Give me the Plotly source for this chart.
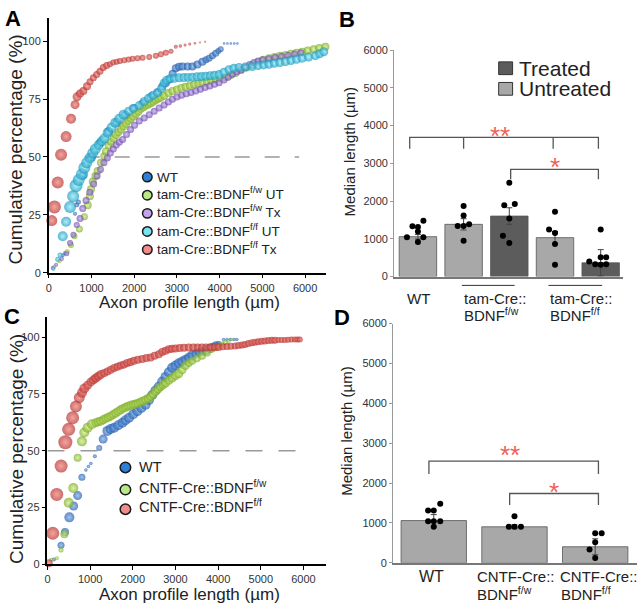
import plotly.graph_objects as go

# ---- panel A: cumulative distributions (length um, cumulative %, bubble value) ----
a_wt = [(327, 7.5, 4), (382, 8.5, 4), (615, 25.5, 4), (654, 29.3, 5), (693, 30.5, 5),
        (800, 42, 8), (1000, 50, 9), (1200, 56, 9), (1400, 61, 9), (1600, 65, 9),
        (1800, 68, 9), (2000, 71, 9), (2200, 73, 9), (2400, 76, 9), (2550, 78, 8),
        (2662, 80.6, 8), (2740, 82, 8), (2818, 83.5, 8), (2900, 86, 8), (2973, 88.4, 8),
        (3050, 89, 8), (3129, 89.1, 8), (3250, 89.1, 8), (3362, 89.1, 8), (3480, 90, 8),
        (3596, 91.2, 8), (3680, 92, 7), (3752, 92.7, 7), (3830, 93.8, 7), (3908, 94.8, 7),
        (3970, 95.8, 6), (4024, 96.6, 6), (4102, 99, 2.5), (4180, 99, 2.5), (4260, 99, 2.5),
        (4340, 99, 2.5), (4413, 99, 2.5)]

a_fw_ut = [(130, 2.6, 4), (250, 5, 4.5), (430, 9, 5), (520, 12, 6), (600, 15.7, 6),
           (716, 18.9, 7), (833, 24.2, 7), (911, 29.1, 8), (960, 33, 8), (988, 36.1, 8),
           (1028, 39.3, 8), (1090, 41.8, 8), (1144, 43.9, 8), (1222, 47.5, 8), (1300, 50.3, 8),
           (1339, 52.4, 8), (1400, 55, 8), (1455, 56.6, 8), (1515, 58, 8), (1572, 59.5, 8),
           (1630, 60.7, 8), (1689, 61.9, 8), (1750, 63.2, 8), (1806, 64.4, 8), (1865, 65.5, 8),
           (1922, 66.5, 8), (1980, 67.5, 8), (2039, 68.6, 8), (2100, 69.7, 8), (2156, 70.8, 8),
           (2215, 71.5, 8), (2273, 72.2, 8), (2330, 72.7, 8), (2390, 73.2, 8), (2450, 73.9, 8),
           (2506, 74.6, 8), (2565, 75.2, 8), (2623, 75.7, 8), (2700, 76.5, 8), (2800, 77.6, 8),
           (2895, 78.5, 8), (3000, 79.2, 8), (3100, 79.8, 8), (3200, 80.3, 8), (3300, 80.8, 8),
           (3400, 81.3, 8), (3500, 81.7, 8), (3596, 82.1, 8), (3700, 82.7, 8), (3800, 83.2, 8),
           (3900, 83.6, 8), (4000, 84, 8), (4141, 84.6, 8), (4260, 85.4, 8), (4374, 86.3, 8),
           (4500, 87.6, 8), (4630, 88.7, 8), (4763, 89.8, 8), (4900, 91, 8), (5030, 92, 8),
           (5153, 92.7, 8), (5280, 93.2, 8), (5410, 93.7, 8), (5541, 94.1, 8), (5670, 94.6, 8),
           (5800, 95, 8), (5931, 95.5, 8), (6060, 96, 8), (6200, 96.6, 8), (6330, 97.1, 8),
           (6475, 97.6, 8)]

a_fw_tx = [(93, 2, 4), (171, 3.4, 4), (300, 6, 4.5), (420, 8.2, 5), (498, 12.8, 6),
           (576, 16.4, 6), (654, 20.6, 6), (732, 23.4, 7), (794, 27.7, 7), (872, 31.2, 7),
           (960, 34.7, 7), (1050, 38.3, 7), (1130, 41.8, 7), (1210, 44.6, 7), (1290, 47.5, 7),
           (1370, 49.6, 7), (1440, 51.7, 7), (1510, 53.4, 7), (1580, 55.2, 7), (1650, 56.4, 7),
           (1728, 57.6, 7), (1821, 59.7, 7), (1915, 61.9, 7), (2008, 63.7, 7), (2117, 65.5, 7),
           (2234, 66.9, 7), (2351, 68.3, 7), (2468, 69.8, 7), (2584, 71.2, 7), (2700, 72.5, 7),
           (2800, 73.8, 7), (2895, 75, 7), (3000, 75.9, 7), (3110, 76.7, 7), (3220, 77.3, 7),
           (3330, 77.9, 7), (3440, 78.5, 7), (3550, 79.3, 7), (3660, 80, 7), (3770, 80.7, 7),
           (3880, 81.4, 7), (3986, 82.1, 7), (4100, 83.3, 7), (4200, 84.5, 7), (4300, 85.8, 7),
           (4400, 86.8, 7), (4500, 87.6, 7), (4600, 88.8, 7), (4700, 90, 7), (4800, 90.8, 7),
           (4900, 91.5, 7), (5000, 92, 7), (5150, 92.5, 7), (5300, 93, 7), (5450, 93.5, 7),
           (5600, 94, 7), (5750, 94.5, 7), (5900, 95, 7)]

a_ff_ut = [(109, 1.7, 4), (210, 5.8, 5), (264, 7.6, 5), (327, 15.7, 10), (405, 22, 10),
           (498, 28.4, 12), (570, 33, 12), (638, 37.6, 13), (700, 40, 12), (778, 42.5, 12),
           (833, 45.3, 12), (887, 47.5, 11), (965, 49.6, 11), (1028, 51.7, 11), (1090, 53.4, 11),
           (1168, 55.2, 10), (1240, 56.8, 10), (1300, 58, 10), (1378, 60.5, 10), (1471, 62.7, 10),
           (1557, 64.8, 10), (1650, 66.5, 10), (1751, 68.3, 10), (1868, 69.8, 9), (1977, 71, 9),
           (2117, 72.2, 9), (2234, 74, 9), (2335, 75.4, 9), (2444, 76.7, 9), (2545, 77.8, 9),
           (2639, 79.7, 9), (2701, 82, 9), (2760, 83.2, 9), (2840, 83.8, 9), (2940, 84, 9),
           (3050, 84.2, 9), (3160, 84.3, 9), (3260, 84.4, 9), (3362, 84.5, 9), (3470, 84.7, 9),
           (3570, 84.8, 9), (3673, 84.9, 9), (3780, 85.1, 9), (3880, 85.3, 9), (3986, 85.6, 9),
           (4100, 86.6, 9), (4219, 87.7, 9), (4330, 88.3, 9), (4453, 88.7, 9), (4600, 88.9, 9),
           (4763, 89.1, 9), (4900, 89.5, 9), (5030, 89.8, 9), (5153, 90.1, 9), (5280, 90.5, 9),
           (5410, 90.8, 9), (5541, 91.2, 9), (5670, 91.7, 9), (5800, 92.2, 9), (5931, 92.7, 9),
           (6080, 93.2, 9), (6242, 93.8, 9), (6340, 94.6, 9), (6437, 95.5, 9)]

a_ff_tx = [(70, 22.5, 11), (132, 28.4, 13), (210, 39, 12), (288, 51, 12), (405, 58.8, 11),
           (521, 66.5, 10), (615, 72.6, 9), (662, 76, 9), (732, 77.4, 8), (809, 78.5, 8),
           (895, 80.6, 8), (965, 82.5, 7), (1043, 84.2, 7), (1121, 85.6, 7), (1198, 87, 7),
           (1276, 88.7, 7), (1354, 89.5, 7), (1432, 90.1, 6), (1510, 90.8, 6), (1588, 91.2, 6),
           (1666, 91.5, 6), (1767, 91.8, 6), (1868, 92.1, 6), (1961, 92.5, 6), (2078, 92.7, 6),
           (2195, 92.9, 6), (2351, 93.2, 6), (2506, 93.8, 6), (2623, 94.4, 6), (2740, 95, 6),
           (2860, 95.7, 5), (2973, 97.6, 4), (3080, 98, 3.5), (3190, 98.4, 3), (3300, 98.8, 3),
           (3420, 99.2, 2.5), (3540, 99.5, 2), (3660, 99.8, 2)]

# ---- panel C ----
c_wt = [(150, 2, 4), (317, 8.3, 7), (411, 14.1, 8), (513, 20.6, 10), (613, 25.6, 9),
        (707, 30.2, 9), (807, 38.3, 7), (900, 41.5, 3.5), (960, 43, 3.5), (1017, 44.3, 3.5),
        (1110, 47.5, 4), (1213, 51.2, 6), (1305, 55.1, 9), (1406, 58.7, 10), (1480, 59.5, 10),
        (1562, 60.1, 10), (1660, 61.2, 10), (1756, 62.3, 10), (1830, 63.4, 10), (1912, 64.5, 10),
        (2010, 66, 10), (2106, 67.4, 10), (2200, 68.8, 10), (2300, 70.2, 10), (2380, 72.3, 10),
        (2456, 74.5, 10), (2530, 76.5, 10), (2611, 78.2, 10), (2689, 80.5, 10), (2767, 82.5, 10),
        (2845, 84.5, 10), (2922, 86.5, 10), (3000, 87.5, 10), (3080, 88.5, 10), (3160, 89.3, 10),
        (3240, 90, 10), (3320, 91, 10), (3400, 92, 10), (3480, 92.7, 9), (3560, 93.3, 9),
        (3640, 93.8, 9), (3720, 94.3, 9), (3800, 95, 9), (3880, 95.8, 8), (3950, 96.4, 8),
        (4011, 96.8, 7), (4127, 99, 3.5), (4210, 99, 3.5), (4290, 99, 3.5), (4370, 99, 3.5),
        (4438, 99, 3.5)]

c_fw = [(84, 1.9, 4), (217, 2.6, 4), (317, 6.2, 5), (396, 13.1, 8), (497, 27, 10),
        (606, 33.5, 10), (707, 46.9, 8), (807, 54.1, 10), (863, 58, 10), (940, 60.1, 10),
        (1040, 61.6, 10), (1134, 62.3, 9), (1190, 62.7, 9), (1250, 63, 9), (1310, 63.6, 9),
        (1367, 64.2, 9), (1425, 64.7, 9), (1483, 65.2, 9), (1540, 65.9, 9), (1600, 66.6, 9),
        (1660, 67.3, 9), (1717, 68, 9), (1775, 68.6, 9), (1833, 69.1, 9), (1890, 69.6, 9),
        (1950, 70, 9), (2010, 70.3, 9), (2067, 70.5, 9), (2125, 70.9, 9), (2183, 71.4, 9),
        (2240, 71.9, 9), (2300, 72.4, 9), (2360, 73, 9), (2417, 73.8, 9), (2475, 74.9, 9),
        (2533, 76, 9), (2590, 77.1, 9), (2650, 78.2, 9), (2710, 79, 9), (2767, 79.8, 9),
        (2845, 81, 9), (2922, 82, 9), (3000, 83, 9), (3078, 83.9, 9), (3155, 85.6, 9),
        (3233, 87.5, 9), (3311, 88.6, 8), (3389, 89.6, 8), (3500, 90.7, 8), (3622, 91.8, 8),
        (3740, 93.3, 8), (3855, 94.7, 7), (3970, 95.8, 7), (4088, 96.8, 6), (4170, 97.6, 5),
        (4244, 98.3, 4), (4322, 99, 3)]

c_ff = [(30, 0.4, 8), (124, 13.6, 13), (217, 30.7, 13), (319, 43.2, 13), (419, 53.7, 14),
        (497, 59.4, 13), (590, 64.5, 13), (667, 69.5, 12), (746, 73.4, 11), (810, 75.5, 10),
        (863, 77.4, 10), (940, 78.8, 9), (1018, 80.3, 9), (1080, 81.2, 9), (1134, 82, 9),
        (1190, 82.8, 9), (1250, 83.5, 9), (1330, 84.2, 8), (1406, 84.9, 8), (1485, 85.6, 8),
        (1562, 86.4, 8), (1640, 87, 8), (1717, 87.5, 8), (1795, 88, 8), (1873, 88.6, 8),
        (1950, 89.1, 8), (2028, 89.6, 8), (2120, 90, 8), (2222, 90.4, 8), (2320, 90.8, 8),
        (2417, 91.1, 8), (2511, 91.8, 8), (2611, 92.5, 8), (2689, 93.5, 8), (2767, 94, 8),
        (2845, 94.7, 8), (2920, 94.9, 8), (3000, 95, 8), (3100, 95.2, 8), (3200, 95.3, 8),
        (3311, 95.4, 8), (3420, 95.4, 8), (3520, 95.4, 8), (3622, 95.4, 8), (3720, 95.5, 8),
        (3820, 95.6, 8), (3920, 95.6, 8), (4010, 95.7, 8), (4110, 95.8, 7), (4210, 95.9, 7),
        (4300, 96, 7), (4399, 96.1, 7), (4480, 96.3, 7), (4560, 96.6, 7), (4632, 96.8, 7),
        (4710, 97.2, 7), (4790, 97.6, 7), (4865, 97.8, 7), (4940, 98, 7), (5020, 98.2, 7),
        (5098, 98.3, 7), (5180, 98.5, 7), (5260, 98.6, 7), (5332, 98.7, 7), (5410, 98.8, 6),
        (5490, 98.8, 6), (5565, 98.8, 6), (5640, 98.9, 6), (5720, 99, 6), (5798, 99, 6),
        (5860, 99, 6), (5914, 99, 6)]

# ---- panel B: median length (um) ----
b_groups = ['WT', 'fw UT', 'fw Tx', 'ff UT', 'ff Tx']
b_treated = [False, False, True, False, True]
b_means = [1057, 1384, 1603, 1031, 364]
b_err = [60, 150, 220, 165, 350]
b_points = [
    [1333, 1481, 1316, 1195, 1039, 1039, 918],
    [1870, 1619, 1342, 1342, 1385, 952],
    [2485, 1887, 1922, 1541, 1082, 892],
    [1714, 1247, 1152, 866, 312],
    [1247, 398, 329, 312, 511, 511, 329],
]
b_jitter = [
    [-0.12, 0.12, 0, 0, -0.24, 0.12, 0],
    [0, 0, -0.13, 0, 0.12, 0],
    [0, -0.11, 0.12, 0, -0.14, 0],
    [0, -0.13, 0, 0, 0],
    [0, -0.25, -0.12, 0, 0.12, 0, 0.12],
]

# ---- panel D ----
d_groups = ['WT', 'CNTF fw', 'CNTF ff']
d_means = [1060, 904, 403]
d_err = [150, 50, 200]
d_points = [
    [1479, 1315, 1315, 1044, 1044, 1044, 904],
    [1167, 904, 904, 904],
    [740, 740, 518, 337, 123],
]
d_jitter = [
    [0.08, -0.07, 0, -0.07, 0.08, 0, 0],
    [0, -0.07, 0, 0.08],
    [0, 0.08, 0, -0.07, 0],
]

FONT = 'Liberation Sans, Arial, sans-serif'
W, H = 640, 610


def px(x):
    return x / W


def py(y):
    return 1 - y / H


fig = go.Figure()


def bubbles(series, edge, light, xa, ya):
    fig.add_trace(go.Scatter(
        x=[p[0] for p in series], y=[p[1] for p in series], mode='markers',
        marker=dict(size=[p[2] for p in series], color=edge,
                    gradient=dict(type='radial', color=light), line=dict(width=0)),
        xaxis=xa, yaxis=ya, cliponaxis=False, showlegend=False, hoverinfo='skip'))


bubbles(a_wt, '#1f55a3', '#76acea', 'x', 'y')
bubbles(a_fw_ut, '#7aa824', '#d0ee7c', 'x', 'y')
bubbles(a_fw_tx, '#6a48ad', '#bea2ee', 'x', 'y')
bubbles(a_ff_ut, '#1598bd', '#8ce8f8', 'x', 'y')
bubbles(a_ff_tx, '#b52e2e', '#ef7d70', 'x', 'y')

bubbles(c_wt, '#1f59ab', '#76acea', 'x3', 'y3')
bubbles(c_fw, '#78a822', '#d0ee7c', 'x3', 'y3')
bubbles(c_ff, '#b52e2e', '#ef7d70', 'x3', 'y3')

LIGHT, DARK = '#a8a8a8', '#5c5c5c'


def bar_panel(means, err, points, jitter, colors, width, xa, ya):
    xs = list(range(len(means)))
    fig.add_trace(go.Bar(
        x=xs, y=means, width=width, marker=dict(color=colors, line=dict(color='#555', width=0.8)),
        error_y=dict(type='data', array=err, color='#444', thickness=1, width=3),
        xaxis=xa, yaxis=ya, showlegend=False, hoverinfo='skip'))
    dx, dy = [], []
    for i, (vals, jit) in enumerate(zip(points, jitter)):
        dx += [i + j for j in jit]
        dy += vals
    fig.add_trace(go.Scatter(
        x=dx, y=dy, mode='markers', marker=dict(size=6, color='black'),
        xaxis=xa, yaxis=ya, showlegend=False, hoverinfo='skip', cliponaxis=False))


bar_panel(b_means, b_err, b_points, b_jitter,
          [DARK if t else LIGHT for t in b_treated], 0.82, 'x2', 'y2')
bar_panel(d_means, d_err, d_points, d_jitter, [LIGHT] * 3, 0.81, 'x4', 'y4')

tickfont = dict(family=FONT, size=11, color='#333')
cum_x = dict(range=[0, 6500], tickvals=list(range(0, 7000, 1000)), showline=True,
             linecolor='black', linewidth=1.5, ticks='outside', ticklen=4, tickcolor='black',
             showgrid=False, zeroline=False, tickfont=tickfont)
cum_y = dict(tickvals=[0, 25, 50, 75, 100], showline=True, linecolor='black', linewidth=1.5,
             ticks='outside', ticklen=4, tickcolor='black', showgrid=False, zeroline=False,
             tickfont=tickfont)
bar_x = dict(showline=True, linecolor='#777', linewidth=2, showticklabels=False, ticks='',
             showgrid=False, zeroline=False)
bar_y = dict(range=[0, 6000], dtick=1000, showline=True, linecolor='#999', linewidth=1,
             ticks='outside', ticklen=3, tickcolor='#999', showgrid=False, zeroline=False,
             tickfont=tickfont)

fig.update_layout(
    xaxis=dict(cum_x, domain=[px(46), px(325)], anchor='y'),
    yaxis=dict(cum_y, domain=[py(272), py(12.4)], range=[0, 110], anchor='x'),
    xaxis3=dict(cum_x, domain=[px(44.7), px(325)], range=[0, 6540], anchor='y3'),
    yaxis3=dict(cum_y, domain=[py(569.3), py(317)], range=[0, 109], anchor='x3'),
    xaxis2=dict(bar_x, domain=[px(393), px(623)], range=[-0.52, 4.49], anchor='y2'),
    yaxis2=dict(bar_y, domain=[py(276), py(45)], anchor='x2'),
    xaxis4=dict(bar_x, domain=[px(392), px(637)], range=[-0.503, 2.518], anchor='y4'),
    yaxis4=dict(bar_y, domain=[py(568), py(324)], anchor='x4'),
    width=W, height=H, margin=dict(l=0, r=0, t=0, b=0),
    paper_bgcolor='white', plot_bgcolor='white', showlegend=False,
    font=dict(family=FONT, color='#222'),
)

shapes = []
# 50% reference lines
shapes.append(dict(type='line', xref='x', yref='y', x0=840, x1=5860, y0=50, y1=50, layer='below',
                   line=dict(color='#999', width=1.5, dash='15px,15px')))
shapes.append(dict(type='line', xref='x3', yref='y3', x0=0, x1=5830, y0=50, y1=50, layer='below',
                   line=dict(color='#999', width=1.5, dash='17px,16px')))


# significance brackets
def bracket(xa, ya, xs, top, bottom):
    path = f'M{xs[0]},{bottom} L{xs[0]},{top} L{xs[-1]},{top} L{xs[-1]},{bottom}'
    for xm in xs[1:-1]:
        path += f' M{xm},{top} L{xm},{bottom}'
    shapes.append(dict(type='path', xref=xa, yref=ya, path=path,
                       line=dict(color='#555', width=1.3)))


bracket('x2', 'y2', [-0.18, 1.0, 2.96, 3.95], 3688, 3384)
bracket('x2', 'y2', [2.03, 3.95], 2838, 2579)
bracket('x4', 'y4', [-0.06, 2.04], 2550, 2230)
bracket('x4', 'y4', [0.94, 2.04], 1739, 1451)

# overlines on B group labels
for x0, x1 in [(461, 514), (548, 602)]:
    shapes.append(dict(type='line', xref='paper', yref='paper', x0=px(x0), x1=px(x1),
                       y0=py(285), y1=py(285), line=dict(color='#333', width=1)))

# legend symbols
a_leg = [('#2e7fd6', 'WT'), ('#b8e986', 'tam-Cre::BDNF<sup>f/w</sup> UT'),
         ('#c4a3ea', 'tam-Cre::BDNF<sup>f/w</sup> Tx'), ('#79e3f0', 'tam-Cre::BDNF<sup>f/f</sup> UT'),
         ('#f28b8b', 'tam-Cre::BDNF<sup>f/f</sup> Tx')]
c_leg = [('#2e7fd6', 'WT'), ('#b8e986', 'CNTF-Cre::BDNF<sup>f/w</sup>'),
         ('#f28b8b', 'CNTF-Cre::BDNF<sup>f/f</sup>')]
ann = []


def circle(cx, cy, r, color):
    shapes.append(dict(type='circle', xref='paper', yref='paper', x0=px(cx - r), x1=px(cx + r),
                       y0=py(cy + r), y1=py(cy - r), fillcolor=color,
                       line=dict(color='#1a1a1a', width=1.5)))


def text(x, y, s, size, xanchor='center', yanchor='middle', color='#222', angle=0, bold=False):
    if bold:
        s = f'<b>{s}</b>'
    ann.append(dict(x=px(x), y=py(y), xref='paper', yref='paper', text=s, showarrow=False,
                    xanchor=xanchor, yanchor=yanchor, textangle=angle,
                    font=dict(family=FONT, size=size, color=color)))


for i, (col, label) in enumerate(a_leg):
    cy = 174.5 + 18.5 * i
    circle(145, cy, 4.8, col)
    text(153, cy + (0 if i == 0 else -2), label, 13.5, xanchor='left')

for cy, (col, label) in zip([470.7, 493.3, 513.3], c_leg):
    circle(123, cy, 5.3, col)
    text(135, cy + (0 if label == 'WT' else -3), label, 14.5, xanchor='left')

# B legend squares
for (y0, col, label) in [(57, DARK, 'Treated'), (78, LIGHT, 'Untreated')]:
    shapes.append(dict(type='rect', xref='paper', yref='paper', x0=px(498), x1=px(512),
                       y0=py(y0 + 13), y1=py(y0), fillcolor=col, line=dict(color='#333', width=1)))
    text(516, y0 + 6.5, label, 21, xanchor='left')

# asterisks
for xa, ya, x, y, s in [('x2', 'y2', 1.79, 3896, '**'), ('x2', 'y2', 3.01, 3065, '*'),
                        ('x4', 'y4', 0.94, 2860, '**'), ('x4', 'y4', 1.49, 1918, '*')]:
    ann.append(dict(x=x, y=y, xref=xa, yref=ya, text=s, showarrow=False, yshift=-6,
                    font=dict(family=FONT, size=26, color='#f0605a')))

# B category labels
text(417, 298, 'WT', 15)
text(461, 298, 'tam-Cre::', 15, xanchor='left')
text(461, 315, 'BDNF<sup>f/w</sup>', 15, xanchor='left')
text(548, 298, 'tam-Cre::', 15, xanchor='left')
text(548, 315, 'BDNF<sup>f/f</sup>', 15, xanchor='left')

# D category labels
text(431, 582, 'WT', 16)
text(474, 582, 'CNTF-Cre::', 15, xanchor='left')
text(558, 582, 'CNTF-Cre::', 15, xanchor='left')
text(474, 599, 'BDNF<sup>f/w</sup>', 15, xanchor='left')
text(559, 599, 'BDNF<sup>f/f</sup>', 15, xanchor='left')

# axis titles
text(13, 146.5, 'Cumulative percentage (%)', 19, angle=-90)
text(13, 452, 'Cumulative percentage (%)', 19, angle=-90)
text(187, 302, 'Axon profile length (\u00b5m)', 17)
text(187, 600, 'Axon profile length (\u00b5m)', 17)
text(348, 148, 'Median length (\u00b5m)', 15, angle=-90)
text(345, 433, 'Median length (\u00b5m)', 15, angle=-90)

# panel letters
text(10, 13, 'A', 22, bold=True, color='black')
text(346, 14, 'B', 22, bold=True, color='black')
text(9, 317, 'C', 22, bold=True, color='black')
text(341, 318, 'D', 22, bold=True, color='black')

fig.update_layout(shapes=shapes, annotations=ann)

fig.write_html('out.html', config={'displayModeBar': False},
               post_script="document.body.style.margin='0';")
